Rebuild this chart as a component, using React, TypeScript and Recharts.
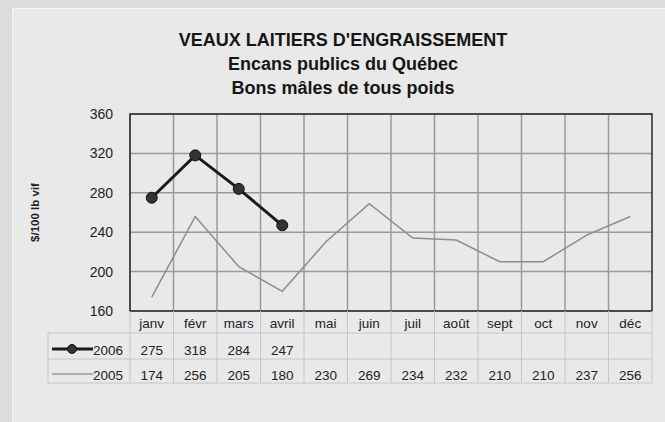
import React from 'react';
import {
  LineChart,
  Line,
  XAxis,
  YAxis,
  CartesianGrid,
  ReferenceArea,
} from 'recharts';

const months = ['janv', 'févr', 'mars', 'avril', 'mai', 'juin', 'juil', 'août', 'sept', 'oct', 'nov', 'déc'];
const values2006: (number | null)[] = [275, 318, 284, 247, null, null, null, null, null, null, null, null];
const values2005 = [174, 256, 205, 180, 230, 269, 234, 232, 210, 210, 237, 256];
const yTicks = [160, 200, 240, 280, 320, 360];

const data = months.map((m, i) => ({ month: m, y2006: values2006[i], y2005: values2005[i] }));

const W = 665;
const H = 422;
const PLOT_LEFT = 130;
const PLOT_RIGHT = 652;
const BAND = (PLOT_RIGHT - PLOT_LEFT) / months.length;
const FONT = "'Liberation Sans', Arial, Helvetica, sans-serif";
const TABLE_LEFT = 48;
const CELL = '#c6c6c6';

// grid lines sit on the month boundaries, not on the tick centres
const bandEdges = ({ offset }: any) =>
  months.map((_, i) => offset.left + (i * offset.width) / months.length);

function TableTick(props: any) {
  const { x, y, payload } = props;
  const i = payload.index;
  const v06 = values2006[i];
  const v05 = values2005[i];
  const left = x - BAND / 2;
  return (
    <g fontFamily={FONT} fontSize={13.5} fill="#222">
      {i === 0 && (
        <g>
          <line x1={TABLE_LEFT} x2={PLOT_RIGHT} y1={y + 22} y2={y + 22} stroke={CELL} />
          <line x1={TABLE_LEFT} x2={PLOT_RIGHT} y1={y + 48} y2={y + 48} stroke={CELL} />
          <line x1={TABLE_LEFT} x2={PLOT_RIGHT} y1={y + 72} y2={y + 72} stroke={CELL} />
          <line x1={TABLE_LEFT} x2={TABLE_LEFT} y1={y + 22} y2={y + 72} stroke={CELL} />
          <line x1={52} x2={93} y1={y + 38} y2={y + 38} stroke="#1a1a1a" strokeWidth={3} />
          <circle cx={72} cy={y + 38} r={4.5} fill="#333" stroke="#111" strokeWidth={1} />
          <text x={93} y={y + 44} fill="#222">2006</text>
          <line x1={52} x2={93} y1={y + 63} y2={y + 63} stroke="#9a9a9a" strokeWidth={1.5} />
          <text x={93} y={y + 69} fill="#222">2005</text>
        </g>
      )}
      <line x1={left} x2={left} y1={y} y2={y + 72} stroke={CELL} />
      {i === months.length - 1 && (
        <line x1={left + BAND} x2={left + BAND} y1={y} y2={y + 72} stroke={CELL} />
      )}
      <text x={x} y={y + 17} textAnchor="middle">{payload.value}</text>
      {v06 != null && <text x={x} y={y + 44} textAnchor="middle">{v06}</text>}
      {v05 != null && <text x={x} y={y + 69} textAnchor="middle">{v05}</text>}
    </g>
  );
}

export default function App() {
  return (
    <div style={{ position: 'fixed', left: 0, top: 0, width: W, height: H, background: '#dcdcdc', overflow: 'hidden' }}>
      <div
        style={{
          position: 'absolute',
          left: 12,
          top: 8,
          width: W - 12,
          height: H - 8,
          background: '#e9e9e9',
          borderLeft: '1px solid #f6f6f6',
          borderTop: '1px solid #f6f6f6',
        }}
      />
      <div
        style={{
          position: 'absolute',
          left: 0,
          top: 28,
          width: 686,
          textAlign: 'center',
          fontFamily: FONT,
          fontWeight: 'bold',
          fontSize: 18,
          lineHeight: '24px',
          color: '#161616',
        }}
      >
        <div>VEAUX LAITIERS D'ENGRAISSEMENT</div>
        <div>Encans publics du Québec</div>
        <div>Bons mâles de tous poids</div>
      </div>
      <div style={{ position: 'absolute', left: 0, top: 0 }}>
        <LineChart width={W} height={H} data={data} margin={{ top: 114, right: W - PLOT_RIGHT, bottom: 0, left: 0 }}>
          <CartesianGrid stroke="#9a9a9a" strokeWidth={1.5} verticalCoordinatesGenerator={bandEdges} />
          <XAxis
            dataKey="month"
            scale="band"
            height={H - 311}
            axisLine={false}
            tickLine={false}
            tickSize={0}
            tickMargin={0}
            interval={0}
            tick={<TableTick />}
          />
          <YAxis
            width={PLOT_LEFT}
            domain={[160, 360]}
            ticks={yTicks}
            axisLine={false}
            tickLine={false}
            tickSize={0}
            tickMargin={17}
            tick={{ fontFamily: FONT, fontSize: 14, fill: '#222' }}
            label={{
              value: '$/100 lb vif',
              angle: -90,
              position: 'insideLeft',
              offset: 35,
              style: { fontFamily: FONT, fontSize: 11.5, fontWeight: 'bold', fill: '#222', textAnchor: 'middle' },
            }}
          />
          <ReferenceArea
            x1={months[0]}
            x2={months[months.length - 1]}
            y1={160}
            y2={360}
            fill="none"
            stroke="#2a2a2a"
            strokeWidth={1.5}
            ifOverflow="visible"
          />
          <Line
            dataKey="y2005"
            stroke="#8c8c8c"
            strokeWidth={1.5}
            dot={false}
            isAnimationActive={false}
          />
          <Line
            dataKey="y2006"
            stroke="#1a1a1a"
            strokeWidth={3}
            dot={{ r: 5.5, fill: '#333', stroke: '#111', strokeWidth: 1 }}
            isAnimationActive={false}
          />
        </LineChart>
      </div>
    </div>
  );
}
